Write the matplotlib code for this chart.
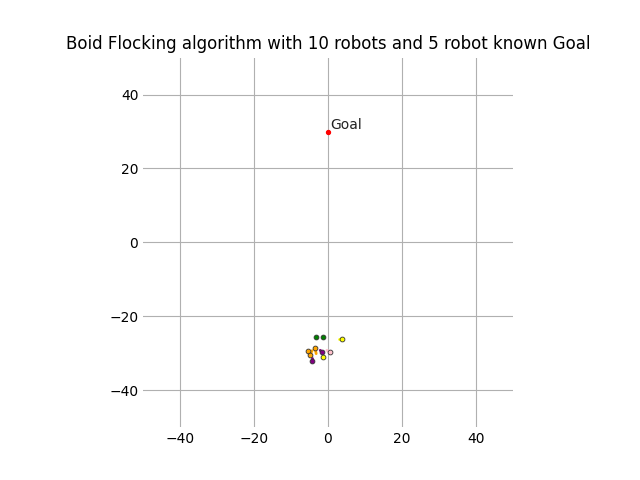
import matplotlib
matplotlib.use("Agg")
import matplotlib.pyplot as plt

robot_x = [-3.2, -1.4, 3.8, -5.4, -3.5, -1.6, -4.3, -1.4, 0.5, -4.9]
robot_y = [-25.7, -25.7, -26.2, -29.5, -28.6, -29.7, -32.2, -31.1, -29.7, -30.5]
robot_c = ['green', 'green', 'yellow', 'orange', 'orange', 'purple', 'purple', 'yellow', 'pink', 'orange']
robot_u = [0.0, 0.0, -0.8, 0.8, 0.3, -0.5, 0.0, 0.0, -0.8, 0.6]
robot_v = [0.0, 0.0, 0.0, -1.2, -1.5, 0.5, 0.8, 0.0, 0.5, 1.2]
goal = (0, 30)

fig, ax = plt.subplots(figsize=(6.4, 4.8), dpi=100)
for x, y, c, u, v in zip(robot_x, robot_y, robot_c, robot_u, robot_v):
    ax.plot([x, x + u], [y, y + v], color=c, lw=2, solid_capstyle='round', zorder=2)
    ax.scatter([x], [y], s=12, color=c, edgecolors='#333333', linewidths=0.6, zorder=3)
ax.scatter([goal[0]], [goal[1]], s=8, color='red', zorder=3)
ax.text(goal[0] + 0.5, goal[1], 'Goal', fontsize=10, va='bottom', ha='left', color='#222222')
ax.set_xlim(-50, 50)
ax.set_ylim(-50, 50)
ax.set_aspect('equal')
ax.grid(True, color='#b0b0b0', lw=0.8)
ax.set_axisbelow(True)
for s in ax.spines.values():
    s.set_visible(False)
ax.set_xticks([-40, -20, 0, 20, 40])
ax.set_yticks([-40, -20, 0, 20, 40])
ax.tick_params(length=0)
ax.set_title('Boid Flocking algorithm with 10 robots and 5 robot known Goal')
fig.savefig('out.png')
